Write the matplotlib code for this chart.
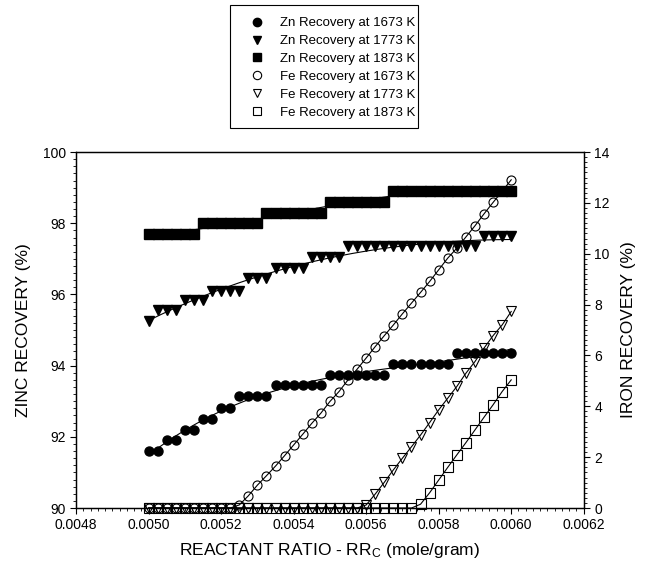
import numpy as np
import matplotlib
matplotlib.use("Agg")
import matplotlib.pyplot as plt
from matplotlib.lines import Line2D
from matplotlib.patches import Rectangle
from matplotlib.ticker import MultipleLocator, FormatStrFormatter

plt.rcParams['font.family'] = ['Liberation Sans', 'DejaVu Sans']
plt.rcParams['mathtext.fontset'] = 'custom'
plt.rcParams['mathtext.rm'] = 'Liberation Sans'
plt.rcParams['mathtext.it'] = 'Liberation Sans:italic'

# ---- data ----
rr = [0.0050 + 0.000025 * i for i in range(41)]

zn_1673 = [91.6, 91.6, 91.9, 91.9, 92.2, 92.2, 92.5, 92.5, 92.8, 92.8,
           93.15, 93.15, 93.15, 93.15, 93.45, 93.45, 93.45, 93.45, 93.45, 93.45,
           93.75, 93.75, 93.75, 93.75, 93.75, 93.75, 93.75,
           94.05, 94.05, 94.05, 94.05, 94.05, 94.05, 94.05,
           94.35, 94.35, 94.35, 94.35, 94.35, 94.35, 94.35]

zn_1773 = [95.25, 95.55, 95.55, 95.55, 95.85, 95.85, 95.85,
           96.1, 96.1, 96.1, 96.1, 96.45, 96.45, 96.45,
           96.75, 96.75, 96.75, 96.75, 97.05, 97.05, 97.05, 97.05,
           97.35, 97.35, 97.35, 97.35, 97.35, 97.35, 97.35, 97.35,
           97.35, 97.35, 97.35, 97.35, 97.35, 97.35, 97.35,
           97.65, 97.65, 97.65, 97.65]

zn_1873 = [97.7, 97.7, 97.7, 97.7, 97.7, 97.7,
           98.0, 98.0, 98.0, 98.0, 98.0, 98.0, 98.0,
           98.3, 98.3, 98.3, 98.3, 98.3, 98.3, 98.3,
           98.6, 98.6, 98.6, 98.6, 98.6, 98.6, 98.6,
           98.9, 98.9, 98.9, 98.9, 98.9, 98.9, 98.9,
           98.9, 98.9, 98.9, 98.9, 98.9, 98.9, 98.9]

fe_1673 = [0, 0, 0, 0, 0, 0, 0, 0, 0, 0,
           0.12, 0.48, 0.9, 1.27, 1.65, 2.06, 2.48, 2.9, 3.33, 3.73,
           4.19, 4.58, 5.04, 5.46, 5.9, 6.35, 6.78, 7.2, 7.64, 8.06,
           8.48, 8.91, 9.37, 9.83, 10.22, 10.66, 11.1, 11.57, 12.02, 12.46, 12.91]

fe_1773 = [0] * 24 + [0.12, 0.55, 1.01, 1.5, 1.96, 2.41, 2.87, 3.36, 3.86,
                      4.32, 4.78, 5.3, 5.76, 6.29, 6.78, 7.2, 7.73]

fe_1873 = [0] * 30 + [0.15, 0.6, 1.1, 1.6, 2.09, 2.57, 3.07, 3.57, 4.06, 4.58, 5.04]

zn_labels = ["Zn Recovery at 1673 K", "Zn Recovery at 1773 K", "Zn Recovery at 1873 K"]
fe_labels = ["Fe Recovery at 1673 K", "Fe Recovery at 1773 K", "Fe Recovery at 1873 K"]

# ---- figure ----
fig = plt.figure(figsize=(6.45, 5.75), dpi=100)
ax = fig.add_axes([0.118, 0.1165, 0.787, 0.619])
ax2 = ax.twinx()

x = np.array(rr)
xs = np.linspace(x[0], x[-1], 200)
ms = 6.5
handles = []
for ys, mk, lab in zip([zn_1673, zn_1773, zn_1873], ['o', 'v', 's'], zn_labels):
    c = np.polyfit((x - 0.0055) * 1000, ys, 3)
    ax.plot(xs, np.polyval(c, (xs - 0.0055) * 1000), color='black', lw=0.8, zorder=2)
    ax.plot(x, ys, linestyle='none', marker=mk, ms=ms, color='black', zorder=3, clip_on=False)
    handles.append(Line2D([], [], linestyle='none', marker=mk, ms=6, color='black'))

for ys, mk, lab in zip([fe_1673, fe_1773, fe_1873], ['o', 'v', 's'], fe_labels):
    ax2.plot(x, ys, linestyle='-', lw=0.8, color='black', marker=mk, ms=ms,
             mfc='none', mec='black', mew=0.8, clip_on=False, zorder=3)
    handles.append(Line2D([], [], linestyle='none', marker=mk, ms=6,
                          mfc='none', mec='black', mew=0.8))

ax.set_xlim(0.0048, 0.0062)
ax.set_ylim(90, 100)
ax2.set_ylim(0, 14)
ax.xaxis.set_major_locator(MultipleLocator(0.0002))
ax.xaxis.set_minor_locator(MultipleLocator(0.00002))
ax.xaxis.set_major_formatter(FormatStrFormatter('%.4f'))
ax.yaxis.set_major_locator(MultipleLocator(2))
ax.yaxis.set_minor_locator(MultipleLocator(0.2))
ax2.yaxis.set_major_locator(MultipleLocator(2))
ax2.yaxis.set_minor_locator(MultipleLocator(0.2))

for a in (ax, ax2):
    a.tick_params(which='major', direction='out', length=4, width=0.8, labelsize=10)
    a.tick_params(which='minor', direction='out', length=2, width=0.6)
    for s in a.spines.values():
        s.set_linewidth(0.9)

ax.set_xlabel("REACTANT RATIO - RR$_\\mathrm{C}$ (mole/gram)", fontsize=12.5, labelpad=6)
ax.set_ylabel("ZINC RECOVERY (%)", fontsize=12.5, labelpad=8)
ax2.set_ylabel("IRON RECOVERY (%)", fontsize=12.5, labelpad=8)

leg = fig.legend(handles, zn_labels + fe_labels, loc='upper left',
                 bbox_to_anchor=(247 / 645, 1 - 17 / 575), fontsize=9.5,
                 frameon=False, handlelength=1.5, handletextpad=1.0,
                 labelspacing=0.43, borderpad=0, borderaxespad=0)
fig.patches.append(Rectangle((230 / 645, 1 - 128 / 575), 188 / 645, 123 / 575,
                             transform=fig.transFigure, fill=False,
                             edgecolor='black', linewidth=0.8))

fig.savefig("out.png", dpi=100)
